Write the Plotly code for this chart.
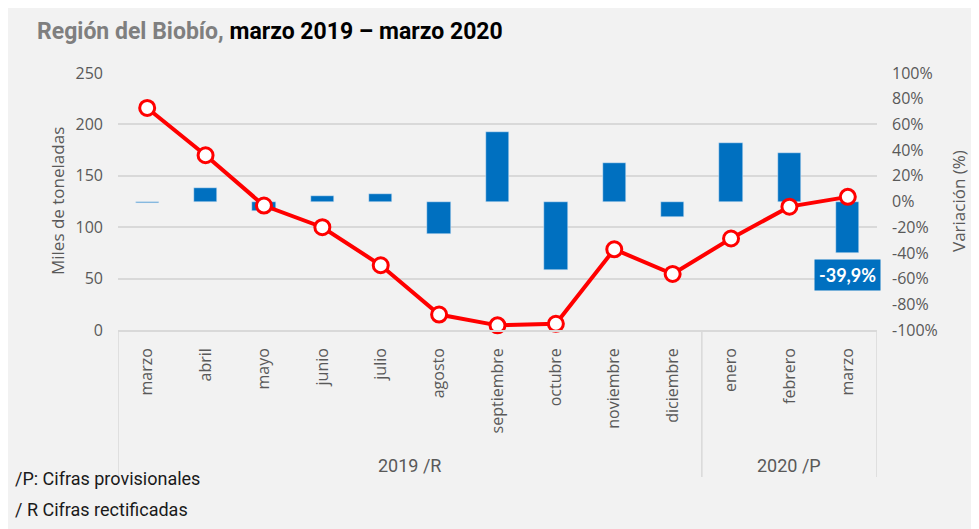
import plotly.graph_objects as go

# ---- data ----
months = ["marzo", "abril", "mayo", "junio", "julio", "agosto", "septiembre",
          "octubre", "noviembre", "diciembre", "enero", "febrero", "marzo"]
tons = [216, 170, 121, 100, 63, 15, 4.5, 6, 78.5, 54.5, 89, 120, 129.5]          # miles de toneladas
variation = [-1, 10.3, -7, 3.9, 5.7, -25.4, 54.4, -53.4, 30, -11.7, 45.8, 37.5, -39.9]  # %
groups = ["2019 /R", "2020 /P"]
group_sizes = [10, 3]
left_ticks = [0, 50, 100, 150, 200, 250]
right_ticks = [100, 80, 60, 40, 20, 0, -20, -40, -60, -80, -100]
right_tick_text = [f"{v}%" for v in right_ticks]
footnotes = ["/P: Cifras provisionales", "/ R Cifras rectificadas"]

# ---- layout geometry (page pixels; the page body adds an 8px offset) ----
OFF = 8
W, H = 979 - OFF, 529 - OFF
PLOT_L, PLOT_R, PLOT_T, PLOT_B = 118, 877, 73, 330   # page px
L, R = PLOT_L - OFF, (W + OFF) - PLOT_R
T, B = PLOT_T - OFF, (H + OFF) - PLOT_B
PW, PH = PLOT_R - PLOT_L, PLOT_B - PLOT_T


def px_x(px):
    return (px - PLOT_L) / PW


def px_y(py):
    return (PLOT_B - py) / PH


xs = list(range(len(months)))
GRAY = "#595959"
GRID = "#d9d9d9"
TICKFONT = "Open Sans"

fig = go.Figure()
fig.add_trace(go.Bar(x=xs, y=variation, yaxis="y", marker_color="#0070c0",
                     width=0.4, showlegend=False, hoverinfo="skip"))
fig.add_trace(go.Scatter(x=xs, y=tons, yaxis="y2", mode="lines+markers",
                         line=dict(color="#ff0000", width=4),
                         marker=dict(size=15, color="white",
                                     line=dict(color="#ff0000", width=3)),
                         showlegend=False, hoverinfo="skip", cliponaxis=False))

shapes = []
# category-group separators
bounds = [-0.5]
for s in group_sizes:
    bounds.append(bounds[-1] + s)
for b in bounds:
    shapes.append(dict(type="line", xref="x", yref="paper", x0=b, x1=b,
                       y0=0, y1=px_y(477), line=dict(color=GRID, width=1.5)))

annotations = []
for i, g in enumerate(groups):
    annotations.append(dict(x=(bounds[i] + bounds[i + 1]) / 2, xref="x",
                            y=px_y(465), yref="paper", xanchor="center", yanchor="middle",
                            text=g, showarrow=False,
                            font=dict(family="Roboto", size=18, color=GRAY)))
for j, t in enumerate(footnotes):
    annotations.append(dict(x=px_x(13), xref="paper", y=px_y(478 + 31 * j), yref="paper",
                            xanchor="left", yanchor="middle", text=t, showarrow=False,
                            font=dict(family="Roboto", size=18, color="#1a1a1a")))
annotations.append(dict(x=px_x(35), xref="paper", y=px_y(32), yref="paper",
                        xanchor="left", yanchor="middle", showarrow=False,
                        text="<b><span style='color:#7f7f7f'>Región del Biobío,</span> marzo 2019 – marzo 2020</b>",
                        font=dict(family="Roboto", size=23, color="#000000")))
annotations.append(dict(x=px_x(57), xref="paper", y=px_y(201), yref="paper",
                        xanchor="center", yanchor="middle",
                        text="Miles de toneladas", textangle=-90, showarrow=False,
                        font=dict(family=TICKFONT, size=17, color=GRAY)))
annotations.append(dict(x=px_x(958), xref="paper", y=px_y(201), yref="paper",
                        xanchor="center", yanchor="middle",
                        text="Variación (%)", textangle=-90, showarrow=False,
                        font=dict(family=TICKFONT, size=17, color=GRAY)))
last = len(months) - 1
annotations.append(dict(x=last, xref="x", y=variation[last], yref="y",
                        xanchor="center", yanchor="top", yshift=-6, showarrow=False,
                        text="<b>" + f"{variation[last]:.1f}%".replace(".", ",") + "</b>",
                        bgcolor="#0070c0", borderpad=4,
                        font=dict(family="Lato", size=18, color="white")))

fig.update_layout(
    width=W, height=H,
    margin=dict(l=L, r=R, t=T, b=B, pad=0),
    paper_bgcolor="#f2f2f2", plot_bgcolor="rgba(0,0,0,0)",
    bargap=0,
    xaxis=dict(range=[-0.5, last + 0.5], tickvals=xs, ticktext=months,
               tickangle=-90, showgrid=False, zeroline=False, showline=True,
               linecolor=GRID, linewidth=1.5, ticks="", ticklabelstandoff=10,
               tickfont=dict(family=TICKFONT, size=16, color=GRAY), fixedrange=True),
    yaxis=dict(side="right", range=[-100, 100], tickvals=right_ticks,
               ticktext=right_tick_text, showgrid=False, zeroline=False,
               showline=False, ticks="", ticklabelstandoff=14,
               tickfont=dict(family=TICKFONT, size=16, color=GRAY)),
    yaxis2=dict(side="left", overlaying="y", range=[0, 250], tickvals=left_ticks,
                showgrid=True, gridcolor=GRID, gridwidth=1.5, zeroline=False,
                showline=False, ticks="", ticklabelstandoff=14,
                tickfont=dict(family=TICKFONT, size=16, color=GRAY)),
    shapes=shapes, annotations=annotations,
)

fig.write_html("out.html")
